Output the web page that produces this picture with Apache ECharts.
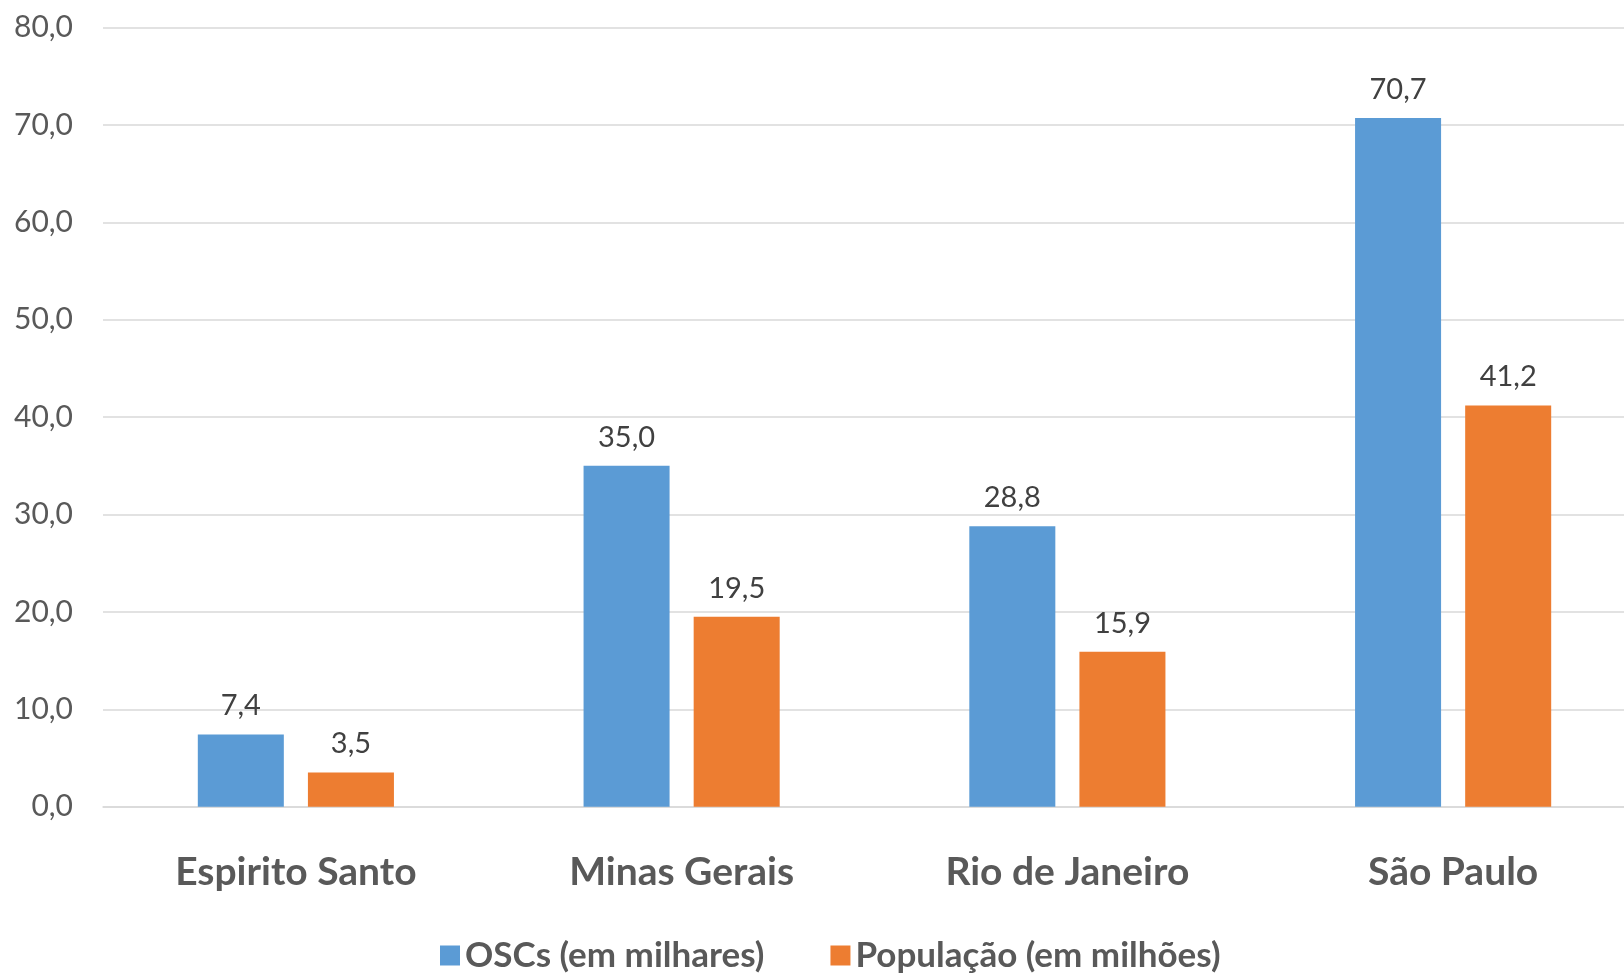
<!DOCTYPE html>
<html><head><meta charset="utf-8">
<script src="https://cdn.jsdelivr.net/npm/echarts@6/dist/echarts.min.js"></script>
<style>html,body{margin:0;padding:0;background:#fff;overflow:hidden;width:1624px;height:975px}#c{width:1646px;height:975px}</style>
</head><body><div id="c"></div>
<script>
const categories = ['Espirito Santo', 'Minas Gerais', 'Rio de Janeiro', 'São Paulo'];
const seriesNames = ['OSCs (em milhares)', 'População (em milhões)'];
const oscs = [7.4, 35.0, 28.8, 70.7];
const populacao = [3.5, 19.5, 15.9, 41.2];

const fmt = v => v.toFixed(1).replace('.', ',');
const chart = echarts.init(document.getElementById('c'));
const font = 'Lato, "Open Sans", sans-serif';
const label = {show: true, position: 'top', distance: 14, color: '#404040', fontSize: 29, fontFamily: font,
  formatter: p => fmt(p.value)};
chart.setOption({
  animation: false,
  textStyle: {fontFamily: font},
  grid: {left: 103, right: 0, top: 27.5, bottom: 168.3, containLabel: false},
  legend: {top: 933, left: 435, itemWidth: 20, itemHeight: 20, itemGap: 66,
    icon: 'rect', textStyle: {fontSize: 35, fontWeight: 'bold', color: '#595959', fontFamily: font},
    data: seriesNames},
  xAxis: {type: 'category', data: categories,
    axisLine: {lineStyle: {color: '#d9d9d9', width: 1.5}}, axisTick: {show: false},
    axisLabel: {fontSize: 39, fontWeight: 'bold', color: '#595959', margin: 46, fontFamily: font}},
  yAxis: {type: 'value', min: 0, max: 80, interval: 10,
    axisLine: {show: false}, axisTick: {show: false},
    splitLine: {lineStyle: {color: '#d9d9d9', width: 1.5}},
    axisLabel: {fontSize: 30, color: '#595959', margin: 30, formatter: v => fmt(v), fontFamily: font}},
  series: [
    {name: seriesNames[0], type: 'bar', data: oscs, barWidth: '22.3%', barGap: '28%',
      itemStyle: {color: '#5b9bd5'}, label},
    {name: seriesNames[1], type: 'bar', data: populacao, barWidth: '22.3%',
      itemStyle: {color: '#ed7d31'}, label}
  ]
});
</script></body></html>
